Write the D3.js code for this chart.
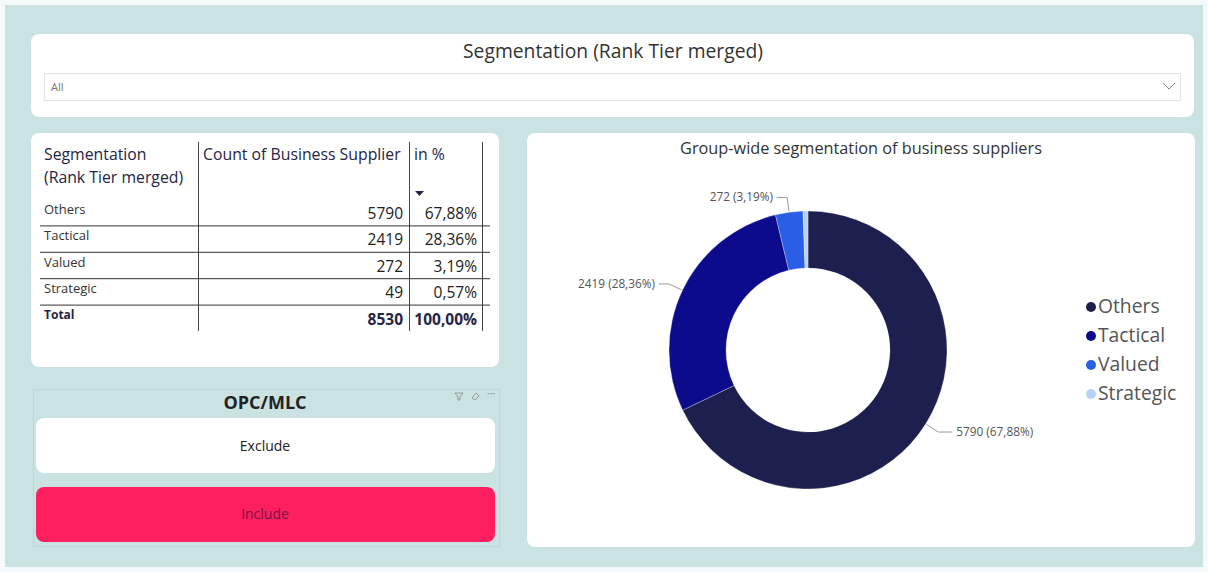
<!DOCTYPE html>
<meta charset="utf-8">
<head>
    <script type="text/javascript" src="https://cdn.jsdelivr.net/npm/d3@7"></script>
    <style>
        body { margin: 0; background: #f4fafa; font-family: "Open Sans", sans-serif; }
        svg text { font-family: "Open Sans", sans-serif; }
    </style>
    <title>Group-wide segmentation of business suppliers</title>
</head>
<body>
<div id="chart"></div>
<script>
    var segments = ["Others", "Tactical", "Valued", "Strategic"];
    var counts = [5790, 2419, 272, 49];
    var shares = ["67,88%", "28,36%", "3,19%", "0,57%"];
    var totalCount = 8530;
    var totalShare = "100,00%";
    var segColors = ["#1d1f4f", "#0b0b8c", "#2a5ee6", "#b9d2f7"];
    var slicerOptions = ["Exclude", "Include"];

    var width = 1208, height = 572;

    var svg = d3.select("#chart").append("svg")
        .attr("width", width)
        .attr("height", height);

    // page background
    svg.append("rect").attr("x", 5).attr("y", 5)
        .attr("width", 1198).attr("height", 562)
        .attr("fill", "#cbe2e2");

    // --- top slicer card
    var topCard = svg.append("g");
    topCard.append("rect").attr("x", 31).attr("y", 34).attr("width", 1163).attr("height", 83)
        .attr("rx", 8).attr("fill", "#fff");
    topCard.append("text").attr("x", 613).attr("y", 58).attr("text-anchor", "middle")
        .attr("font-size", 19.3).attr("fill", "#333")
        .text("Segmentation (Rank Tier merged)");
    topCard.append("rect").attr("x", 44.5).attr("y", 73.5).attr("width", 1136).attr("height", 27)
        .attr("fill", "#fff").attr("stroke", "#e4e4e4");
    topCard.append("text").attr("x", 51).attr("y", 91).attr("font-size", 11).attr("fill", "#777").text("All");
    topCard.append("path").attr("d", "M1163,83 L1169,89 L1175,83")
        .attr("fill", "none").attr("stroke", "#888").attr("stroke-width", 1);

    // --- table card
    var tbl = svg.append("g");
    tbl.append("rect").attr("x", 31).attr("y", 133).attr("width", 468).attr("height", 234)
        .attr("rx", 8).attr("fill", "#fff");

    var colX = d3.scaleOrdinal().domain(["seg", "count", "pct"]).range([198, 409, 482]);
    var rowY = d3.scaleBand().domain(segments.concat(["Total"])).range([199, 331]);

    ["seg", "count", "pct"].forEach(function (c) {
        tbl.append("line").attr("x1", colX(c) + 0.5).attr("x2", colX(c) + 0.5)
            .attr("y1", 142).attr("y2", 331).attr("stroke", "#444").attr("stroke-width", 1);
    });
    segments.forEach(function (s) {
        var y = rowY(s) + rowY.bandwidth();
        tbl.append("line").attr("x1", 40).attr("x2", 490).attr("y1", y + 0.5).attr("y2", y + 0.5)
            .attr("stroke", "#333").attr("stroke-width", 1);
    });

    var hdr = tbl.append("g").attr("font-size", 15.8).attr("fill", "#252445");
    hdr.append("text").attr("x", 44).attr("y", 160).text("Segmentation");
    hdr.append("text").attr("x", 44).attr("y", 183).text("(Rank Tier merged)");
    hdr.append("text").attr("x", 203).attr("y", 160).text("Count of Business Supplier");
    hdr.append("text").attr("x", 414).attr("y", 160).text("in %");
    tbl.append("path").attr("d", "M415,191 L424,191 L419.5,196 Z").attr("fill", "#252445");

    var rows = tbl.selectAll(".row").data(segments).enter().append("g").attr("class", "row");
    rows.append("text").attr("x", 44).attr("y", function (d) { return rowY(d) + 15; })
        .attr("font-size", 13).attr("fill", "#333").text(function (d) { return d; });
    rows.append("text").attr("x", 403).attr("y", function (d) { return rowY(d) + 20; })
        .attr("text-anchor", "end").attr("font-size", 15.5).attr("fill", "#222")
        .text(function (d, i) { return counts[i]; });
    rows.append("text").attr("x", 477).attr("y", function (d) { return rowY(d) + 20; })
        .attr("text-anchor", "end").attr("font-size", 15.5).attr("fill", "#222")
        .text(function (d, i) { return shares[i]; });

    tbl.append("text").attr("x", 44).attr("y", rowY("Total") + 14)
        .attr("font-size", 12).attr("font-weight", "bold").attr("fill", "#252445").text("Total");
    tbl.append("text").attr("x", 403).attr("y", rowY("Total") + 20).attr("text-anchor", "end")
        .attr("font-size", 15.5).attr("font-weight", "bold").attr("fill", "#252445").text(totalCount);
    tbl.append("text").attr("x", 477).attr("y", rowY("Total") + 20).attr("text-anchor", "end")
        .attr("font-size", 15.5).attr("font-weight", "bold").attr("fill", "#252445").text(totalShare);

    // --- OPC/MLC slicer
    var sl = svg.append("g");
    sl.append("rect").attr("x", 33.5).attr("y", 389.5).attr("width", 466).attr("height", 157)
        .attr("fill", "none").attr("stroke", "#bfd5d6").attr("stroke-width", 1);
    sl.append("text").attr("x", 265).attr("y", 409).attr("text-anchor", "middle")
        .attr("font-size", 18).attr("font-weight", "bold").attr("fill", "#222").text("OPC/MLC");
    sl.append("path").attr("d", "M455,393 L463,393 L460,397 L460,400 L458,400 L458,397 Z")
        .attr("fill", "none").attr("stroke", "#888").attr("stroke-width", 0.8);
    sl.append("path").attr("d", "M472,398 L476,393 L479,396 L475,400 Z")
        .attr("fill", "none").attr("stroke", "#888").attr("stroke-width", 0.8);
    sl.append("text").attr("x", 487).attr("y", 397).attr("font-size", 10).attr("fill", "#888").text("···");

    var btnY = d3.scaleBand().domain(slicerOptions).range([418, 542]).paddingInner(0.2);
    var btn = sl.selectAll(".btn").data(slicerOptions).enter().append("g").attr("class", "btn");
    btn.append("rect").attr("x", 36).attr("y", function (d) { return btnY(d); })
        .attr("width", 459).attr("height", btnY.bandwidth()).attr("rx", 8)
        .attr("fill", function (d) { return d === "Include" ? "#ff1f5e" : "#fff"; });
    btn.append("text").attr("x", 265).attr("y", function (d) { return btnY(d) + btnY.bandwidth() / 2 + 5; })
        .attr("text-anchor", "middle").attr("font-size", 14)
        .attr("fill", function (d) { return d === "Include" ? "#7d1149" : "#222"; })
        .text(function (d) { return d; });

    // --- donut card
    var dc = svg.append("g");
    dc.append("rect").attr("x", 527).attr("y", 133).attr("width", 668).attr("height", 414)
        .attr("rx", 8).attr("fill", "#fff");
    dc.append("text").attr("x", 861).attr("y", 154).attr("text-anchor", "middle")
        .attr("font-size", 16.3).attr("fill", "#333")
        .text("Group-wide segmentation of business suppliers");

    var cx = 808, cy = 350, outerR = 139, innerR = 82;
    var pie = d3.pie().sort(null).value(function (d) { return d.count; });
    var data = segments.map(function (s, i) { return {name: s, count: counts[i], share: shares[i], color: segColors[i]}; });
    var arcs = pie(data);
    var arc = d3.arc().innerRadius(innerR).outerRadius(outerR);

    var donut = dc.append("g").attr("transform", "translate(" + cx + "," + cy + ")");
    donut.selectAll("path").data(arcs).enter().append("path")
        .attr("d", arc)
        .attr("fill", function (d) { return d.data.color; })
        .attr("stroke", "#fff").attr("stroke-width", 0.3);

    // leader lines + labels (the smallest slice has no label)
    var labelled = arcs.filter(function (d) { return d.data.name !== "Strategic"; });
    function pointAt(a, r) { return [Math.sin(a) * r, -Math.cos(a) * r]; }
    labelled.forEach(function (d) {
        var mid = (d.startAngle + d.endAngle) / 2;
        var p1 = pointAt(mid, outerR + 1);
        var p2 = pointAt(mid, outerR + 15);
        var right = p2[0] > 0;
        var p3 = [p2[0] + (right ? 14 : -10), p2[1]];
        donut.append("polyline")
            .attr("points", [p1, p2, p3].map(function (p) { return p.join(","); }).join(" "))
            .attr("fill", "none").attr("stroke", "#999").attr("stroke-width", 1);
        donut.append("text")
            .attr("x", p3[0] + (right ? 4 : -4)).attr("y", p3[1] + 4)
            .attr("text-anchor", right ? "start" : "end")
            .attr("font-size", 11.8).attr("fill", "#555")
            .text(d.data.count + " (" + d.data.share + ")");
    });

    // legend
    var legY = d3.scalePoint().domain(segments).range([307, 394]);
    var leg = dc.selectAll(".leg").data(data).enter().append("g").attr("class", "leg");
    leg.append("circle").attr("cx", 1091).attr("cy", function (d) { return legY(d.name); })
        .attr("r", 5).attr("fill", function (d) { return d.color; });
    leg.append("text").attr("x", 1098).attr("y", function (d) { return legY(d.name) + 6; })
        .attr("font-size", 19.3).attr("fill", "#555").text(function (d) { return d.name; });
</script>
</body>
